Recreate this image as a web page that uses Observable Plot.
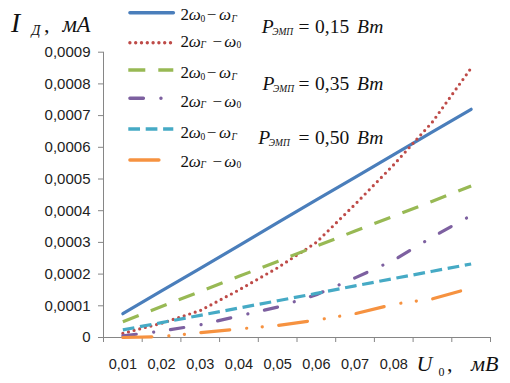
<!DOCTYPE html>
<html>
<head>
<meta charset="utf-8">
<script src="https://cdn.jsdelivr.net/npm/d3@7"></script>
<script src="https://cdn.jsdelivr.net/npm/@observablehq/plot@0.6"></script>
<style>
  html, body { margin: 0; padding: 0; background: #fff; }
  svg { display: block; }
</style>
</head>
<body>
<div id="chart"></div>
<script>
// Data
const U = [0.01, 0.02, 0.03, 0.04, 0.05, 0.06, 0.07, 0.08, 0.09, 0.10];
const blue015   = [0.000075, 0.000147, 0.000218, 0.00029, 0.000362, 0.000434, 0.000505, 0.000577, 0.000649, 0.00072];
const red015    = [0.000013, 0.000045, 0.000085, 0.00015, 0.00022, 0.0003, 0.00042, 0.000545, 0.00068, 0.00085];
const green035  = [0.00005, 0.000098, 0.000145, 0.000193, 0.00024, 0.000288, 0.000336, 0.000383, 0.00043, 0.000478];
const purple035 = [0.000005, 0.00002, 0.00004, 0.000068, 0.000096, 0.000135, 0.000188, 0.000244, 0.000317, 0.000385];
const teal050   = [0.000024, 0.000047, 0.00007, 0.000093, 0.000116, 0.000139, 0.000163, 0.000186, 0.000209, 0.000232];
const orange050 = [0, 0.000003, 0.000015, 0.000027, 0.000038, 0.000055, 0.000075, 0.000105, 0.000122, 0.000156];

const yTicks = [0, 0.0001, 0.0002, 0.0003, 0.0004, 0.0005, 0.0006, 0.0007, 0.0008, 0.0009];
const xLabelTicks = [0.01, 0.02, 0.03, 0.04, 0.05, 0.06, 0.07, 0.08];
const xTickMarks = [0.005, 0.015, 0.025, 0.035, 0.045, 0.055, 0.065, 0.075, 0.085, 0.095, 0.105];

const series = [
  {values: blue015,   color: "#4A7EBB", dash: null,                     cap: "round", kind: 0},
  {values: red015,    color: "#BE4B48", dash: "0 5.8",                  cap: "round", kind: 1},
  {values: green035,  color: "#98B954", dash: "17 13",                  cap: "butt",  kind: 0},
  {values: purple035, color: "#7D60A0", dash: "13.5 17.5 0.1 16.9",     cap: "round", kind: 1},
  {values: teal050,   color: "#46AAC5", dash: "11.7 5.7",               cap: "butt",  kind: 0},
  {values: orange050, color: "#F69240", dash: "29 17 0.1 15.5 0.1 16.5", cap: "round", kind: 1}
];
const powers = ["0,15", "0,35", "0,50"];

const axisColor = "#868686";
const fmtY = d => d === 0 ? "0" : d.toFixed(4).replace(".", ",");
const fmtX = d => d.toFixed(2).replace(".", ",");

const lineMarks = series.map(s => Plot.line(U.map((u, i) => ({u, v: s.values[i]})), {
  x: "u", y: "v", stroke: s.color, strokeWidth: 3.2,
  strokeDasharray: s.dash || undefined, strokeLinecap: s.cap, strokeLinejoin: "round"
}));

const svg = Plot.plot({
  width: 510, height: 383,
  marginLeft: 103, marginRight: 20, marginTop: 51.7, marginBottom: 46,
  style: {fontFamily: "'Liberation Sans', Arial, sans-serif", background: "#fff", color: "#222"},
  x: {domain: [0.005, 0.105]},
  y: {domain: [0, 0.0009]},
  marks: [
    Plot.axisY({ticks: yTicks, tickSize: 5, tickPadding: 8, tickFormat: fmtY, fontSize: 15, stroke: axisColor, label: null}),
    Plot.axisX({ticks: xTickMarks, tickSize: 5, tickFormat: () => "", stroke: axisColor, label: null}),
    Plot.axisX({ticks: xLabelTicks, tickSize: 0, tickPadding: 21, tickFormat: fmtX, fontSize: 14.5, label: null}),
    Plot.ruleX([0.005], {stroke: axisColor}),
    Plot.ruleY([0], {stroke: axisColor}),
    ...lineMarks
  ]
});
document.getElementById("chart").appendChild(svg);

// Titles and legend
const root = d3.select(svg);
const serif = "'Liberation Serif', 'Times New Roman', serif";

function eq(parts) {
  const t = root.append("text")
    .attr("text-anchor", "start")
    .attr("font-family", serif).attr("fill", "#111");
  parts.forEach(p => {
    t.append("tspan").text(p.t)
      .attr("x", p.x).attr("y", p.y)
      .attr("text-anchor", "start")
      .attr("font-size", p.size)
      .attr("font-style", p.it ? "italic" : "normal");
  });
  return t;
}

// Y title: I_Д, мА
eq([
  {t: "I",  it: true,  size: 27.5, x: 11,   y: 31.7},
  {t: "Д",  it: true,  size: 14,   x: 31.5, y: 34.5},
  {t: ",",  it: false, size: 22,   x: 44,   y: 31.7},
  {t: "мА", it: true,  size: 22.5, x: 62.5, y: 31.7}
]);

// X title: U_0, мВ
eq([
  {t: "U",  it: true,  size: 22, x: 416.5, y: 370.7},
  {t: "0",  it: false, size: 12, x: 438.5, y: 376},
  {t: ",",  it: false, size: 22, x: 447,   y: 370.7},
  {t: "мВ", it: true,  size: 22, x: 471,   y: 370.7}
]);

// Legend
const rowY = [12.7, 42.7, 70, 98.3, 129, 160];
const rowBase = [20, 46.7, 78.3, 106.7, 138.3, 166.7];
series.forEach((s, i) => {
  const y = rowY[i];
  const round = s.cap === "round";
  const ln = root.append("line")
    .attr("x1", round ? 129.9 : 128.3).attr("x2", round ? 173.4 : 173.3)
    .attr("y1", y).attr("y2", y)
    .attr("stroke", s.color).attr("stroke-width", 3.4).attr("stroke-linecap", s.cap);
  if (s.dash) ln.attr("stroke-dasharray", s.dash);
  const b = rowBase[i], sb = b + 1.7;
  const parts = s.kind === 0
    ? [{t: "2", size: 17, x: 180.5, y: b}, {t: "ω", it: true, size: 17, x: 188.8, y: b},
       {t: "0", size: 9.5, x: 200.6, y: sb},
       {t: "−", size: 17, x: 206.8, y: b}, {t: "ω", it: true, size: 17, x: 219, y: b},
       {t: "Γ", it: true, size: 9.5, x: 231.5, y: sb}]
    : [{t: "2", size: 17, x: 180.5, y: b}, {t: "ω", it: true, size: 17, x: 188.8, y: b},
       {t: "Γ", it: true, size: 9.5, x: 200.6, y: sb},
       {t: "−", size: 17, x: 212.5, y: b}, {t: "ω", it: true, size: 17, x: 224.2, y: b},
       {t: "0", size: 9.5, x: 236.6, y: sb}];
  eq(parts);
});

// Power labels
const pY = [33.3, 90, 143.5];
const pX = [261.7, 262.5, 258.3];
powers.forEach((p, i) => {
  const b = pY[i], xp = pX[i];
  eq([
    {t: "P",   it: true,  size: 19.5, x: xp,    y: b},
    {t: "ЭМП", it: true,  size: 9.5,  x: xp + 10.5, y: b + 2},
    {t: "=",             size: 19.5, x: 298.5, y: b},
    {t: p,               size: 19.5, x: 315,   y: b},
    {t: "Вт",  it: true,  size: 19.5, x: 357,   y: b}
  ]);
});
</script>
</body>
</html>
